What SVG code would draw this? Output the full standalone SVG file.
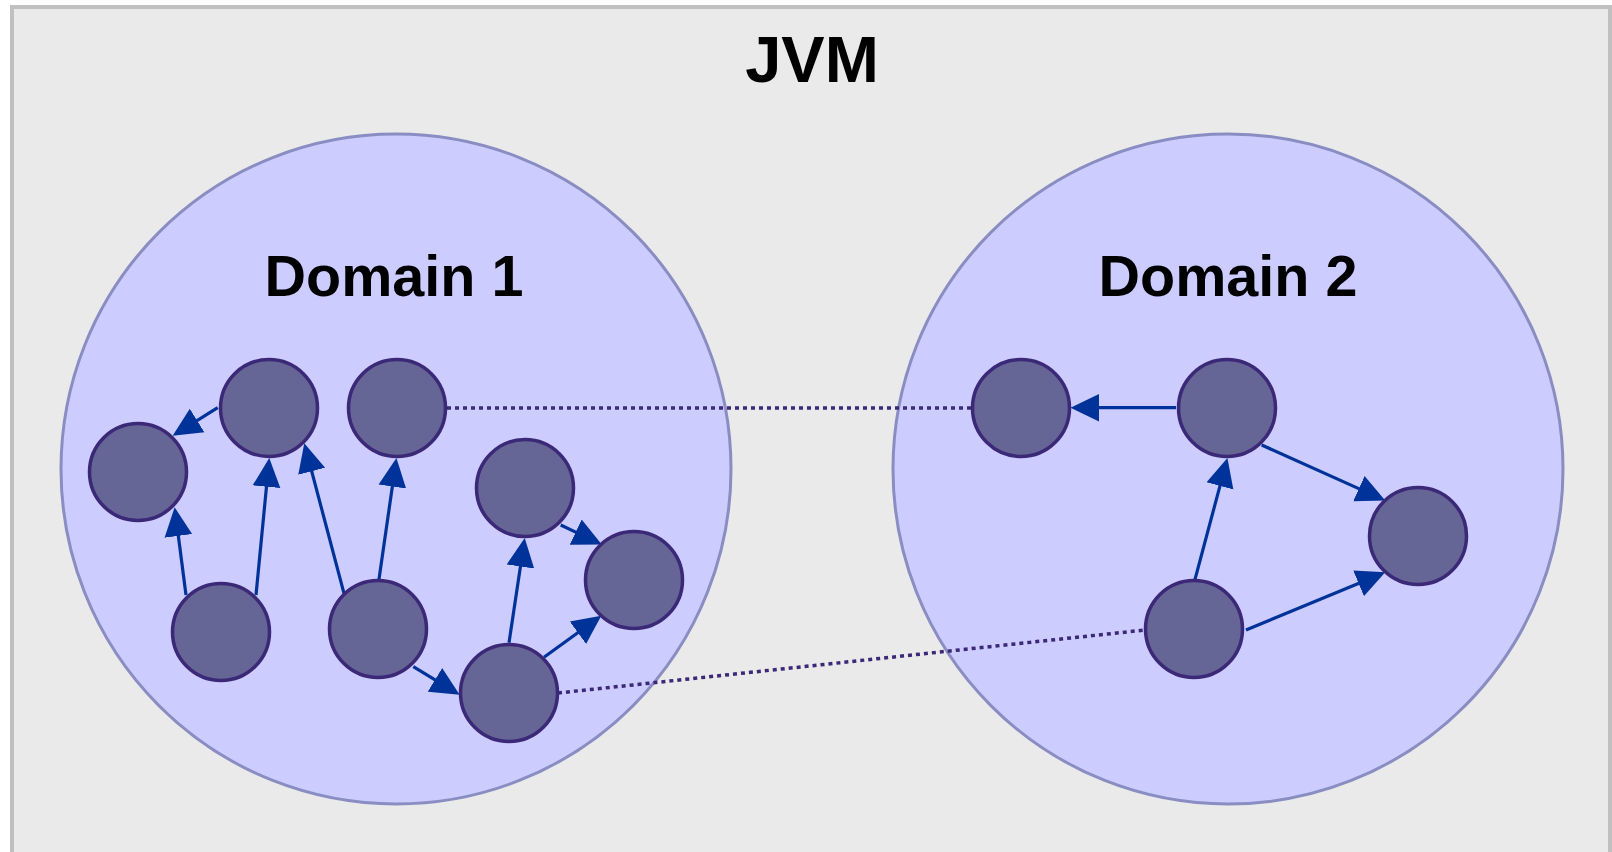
<svg xmlns="http://www.w3.org/2000/svg" width="1612" height="852" viewBox="0 0 1612 852">
<style>
.title{font-family:"Liberation Sans",Arial,sans-serif;font-weight:bold;fill:#000;text-anchor:middle}
.domain{fill:#ccccff;stroke:#8a8dc2;stroke-width:3}
.node{fill:#656596;stroke:#3b2876;stroke-width:3.5}
.edge{stroke:#003399;stroke-width:3.2;fill:none}
.ref{stroke:#3b2876;stroke-width:3.5;stroke-dasharray:4 4;fill:none}
</style>
<defs>
<marker id="ah" markerUnits="userSpaceOnUse" markerWidth="30" markerHeight="30" refX="0" refY="12.5" orient="auto" viewBox="-1 0 27 25">
<path d="M-1,0 L25,12.5 L-1,25 z" fill="#003399"/>
</marker>
</defs>
<rect x="12" y="7" width="1598" height="870" fill="#eaeaea" stroke="#c0c0c0" stroke-width="4"/>
<text class="title" x="812" y="82" font-size="65">JVM</text>
<g id="domain1">
<circle class="domain" cx="396" cy="469" r="335"/>
<text class="title" x="394" y="296" font-size="57.5">Domain 1</text>
</g>
<g id="domain2">
<circle class="domain" cx="1228" cy="469" r="335"/>
<text class="title" x="1228" y="296" font-size="57.5">Domain 2</text>
</g>
<g id="connectors">
<line class="ref" x1="447" y1="408" x2="972" y2="408"/>
<line class="ref" x1="558" y1="693" x2="1145" y2="630"/>
<line class="edge" x1="217.7" y1="407.7" x2="196.2" y2="421.1" marker-end="url(#ah)"/>
<line class="edge" x1="186" y1="595" x2="178.2" y2="534.8" marker-end="url(#ah)"/>
<line class="edge" x1="256" y1="595" x2="266.6" y2="485.6" marker-end="url(#ah)"/>
<line class="edge" x1="344" y1="593.3" x2="311.4" y2="470.2" marker-end="url(#ah)"/>
<line class="edge" x1="379" y1="579.3" x2="392.5" y2="485.4" marker-end="url(#ah)"/>
<line class="edge" x1="413.3" y1="666.7" x2="435.9" y2="680.4" marker-end="url(#ah)"/>
<line class="edge" x1="509" y1="642.7" x2="520.6" y2="565.4" marker-end="url(#ah)"/>
<line class="edge" x1="544" y1="657.3" x2="578.8" y2="632" marker-end="url(#ah)"/>
<line class="edge" x1="560.7" y1="525" x2="576.7" y2="532.6" marker-end="url(#ah)"/>
<line class="edge" x1="1176" y1="407.7" x2="1098.3" y2="407.7" marker-end="url(#ah)"/>
<line class="edge" x1="1195" y1="579.3" x2="1220.25" y2="484.85" marker-end="url(#ah)"/>
<line class="edge" x1="1261.7" y1="445" x2="1359.9" y2="489.1" marker-end="url(#ah)"/>
<line class="edge" x1="1246" y1="630" x2="1359.6" y2="582.9" marker-end="url(#ah)"/>
</g>
<g id="n1"><circle class="node" cx="138" cy="472" r="48.5"/></g>
<g id="n2"><circle class="node" cx="269" cy="408" r="48.5"/></g>
<g id="n3"><circle class="node" cx="397" cy="408" r="48.5"/></g>
<g id="n4"><circle class="node" cx="221" cy="632" r="48.5"/></g>
<g id="n5"><circle class="node" cx="378" cy="629" r="48.5"/></g>
<g id="n6"><circle class="node" cx="525" cy="488" r="48.5"/></g>
<g id="n7"><circle class="node" cx="634" cy="580" r="48.5"/></g>
<g id="n8"><circle class="node" cx="509" cy="693" r="48.5"/></g>
<g id="m1"><circle class="node" cx="1021" cy="408" r="48.5"/></g>
<g id="m2"><circle class="node" cx="1227" cy="408" r="48.5"/></g>
<g id="m3"><circle class="node" cx="1418" cy="536" r="48.5"/></g>
<g id="m4"><circle class="node" cx="1194" cy="629" r="48.5"/></g>
</svg>
